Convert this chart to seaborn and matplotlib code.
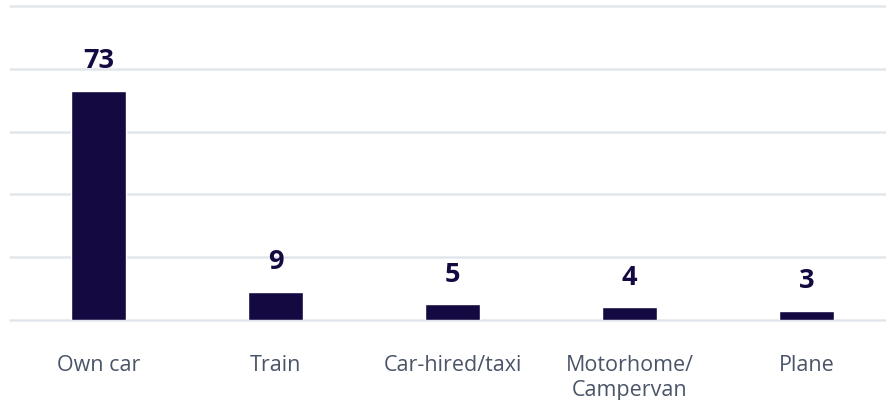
import matplotlib
matplotlib.use("Agg")
import matplotlib.pyplot as plt
import seaborn as sns
import pandas as pd

categories = ["Own car", "Train", "Car-hired/taxi", "Motorhome/\nCampervan", "Plane"]
values = [73, 9, 5, 4, 3]

df = pd.DataFrame({"mode": categories, "pct": values})

sns.set_theme(style="white")
plt.rcParams["font.family"] = ["Open Sans", "DejaVu Sans"]

fig = plt.figure(figsize=(8.87, 4.0), dpi=100)
ax = fig.add_axes([10/887, 80/400, 885/887, 314/400])

bar_color = "#150942"
sns.barplot(data=df, x="mode", y="pct", color=bar_color, width=0.316,
            saturation=1, ax=ax, zorder=3)

ax.set_ylim(0, 100)
ax.set_xlim(-0.5, len(categories) - 0.5)
ax.set_yticks([0, 20, 40, 60, 80, 100])
ax.yaxis.grid(True, color="#e2e6ec", linewidth=1.8, zorder=0)
for gl in ax.get_ygridlines():
    gl.set_clip_on(False)
ax.tick_params(axis="y", left=False, labelleft=False)
ax.tick_params(axis="x", bottom=False, pad=19, labelsize=15.5, labelcolor="#4a5568")
for lab in ax.get_xticklabels():
    lab.set_linespacing(1.25)
for s in ax.spines.values():
    s.set_visible(False)
ax.set_xlabel("")
ax.set_ylabel("")

for i, v in enumerate(values):
    ax.annotate(str(v), xy=(i, v), xytext=(0, 12), textcoords="offset points",
                ha="center", va="bottom", fontsize=19.5, fontweight="bold",
                color=bar_color)

fig.savefig("out.png", dpi=100)
